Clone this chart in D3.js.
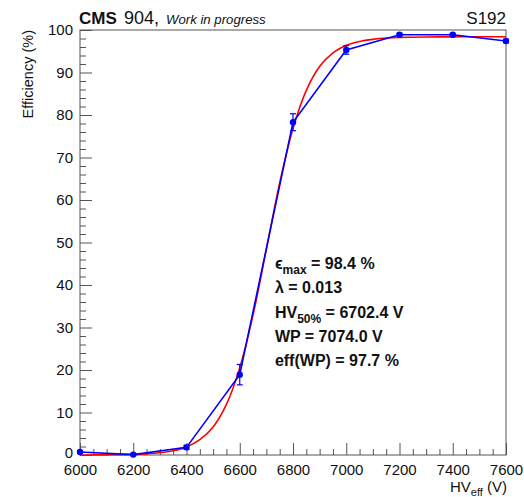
<!DOCTYPE html>
<html lang="en">
  <head>
    <meta charset="UTF-8" />
    <title>Efficiency vs HV – D3.js</title>
    <script src="https://d3js.org/d3.v7.min.js"></script>
    <style>
      body {
        margin: 0;
        background: white;
        font-family: 'Liberation Sans', Arial, sans-serif;
      }
      svg {
        display: block;
      }
      .tick text {
        font-family: 'Liberation Sans', Arial, sans-serif;
        font-size: 15px;
        fill: #111;
      }
      .fit-label {
        font-size: 16px;
        font-weight: bold;
        fill: #111;
      }
    </style>
  </head>
  <body>
    <svg width="524" height="497"></svg>

    <script>
      // measured points
      const hv = [6000, 6200, 6400, 6600, 6800, 7000, 7200, 7400, 7600];
      const eff = [0.7, 0.1, 1.8, 18.9, 78.3, 95.3, 98.9, 98.9, 97.4];
      const effErr = [0.3, 0.1, 0.5, 2.4, 2.0, 1.0, 0.3, 0.3, 0.4];

      // fit curve
      const fitHV = [6000, 6050, 6100, 6150, 6200, 6250, 6300, 6350, 6400,
        6450, 6500, 6550, 6600, 6650, 6700, 6750, 6800, 6850, 6900, 6950,
        7000, 7050, 7100, 7150, 7200, 7250, 7300, 7350, 7400, 7450, 7500,
        7550, 7600];
      const fitEff = [0.01, 0.02, 0.04, 0.08, 0.14, 0.27, 0.52, 1.0, 1.9,
        3.6, 6.6, 11.9, 20.5, 33.0, 48.4, 64.0, 76.8, 85.8, 91.4, 94.6,
        96.4, 97.3, 97.8, 98.1, 98.25, 98.3, 98.36, 98.38, 98.39, 98.4, 98.4,
        98.4, 98.4];

      const fitText = [
        ['ϵ', 'max', ' = 98.4 %'],
        ['λ = 0.013'],
        ['HV', '50%', ' = 6702.4 V'],
        ['WP = 7074.0 V'],
        ['eff(WP) = 97.7 %'],
      ];

      const width = 524,
        height = 497;
      const margin = { top: 30, right: 18, bottom: 42, left: 80 };
      const innerW = width - margin.left - margin.right;
      const innerH = height - margin.top - margin.bottom;

      const svg = d3.select('svg');
      const g = svg
        .append('g')
        .attr('transform', `translate(${margin.left},${margin.top})`);

      const x = d3.scaleLinear().domain([6000, 7600]).range([0, innerW]);
      const y = d3.scaleLinear().domain([0, 100]).range([innerH, 0]);

      // minor ticks
      g.append('g')
        .attr('transform', `translate(0,${innerH})`)
        .call(
          d3.axisBottom(x)
            .tickValues(d3.range(6000, 7601, 50).filter((v) => v % 200 !== 0))
            .tickSize(-6)
            .tickSizeOuter(0)
            .tickFormat(''),
        )
        .call((a) => a.select('.domain').remove());
      g.append('g')
        .call(
          d3.axisLeft(y)
            .tickValues(d3.range(0, 101, 2).filter((v) => v % 10 !== 0))
            .tickSize(-6)
            .tickSizeOuter(0)
            .tickFormat(''),
        )
        .call((a) => a.select('.domain').remove());

      // major ticks
      g.append('g')
        .attr('transform', `translate(0,${innerH})`)
        .call(
          d3.axisBottom(x)
            .tickValues(d3.range(6000, 7601, 200))
            .tickSize(-12)
            .tickSizeOuter(0)
            .tickPadding(9)
            .tickFormat(d3.format('d')),
        )
        .call((a) => a.select('.domain').remove());
      g.append('g')
        .call(
          d3.axisLeft(y)
            .tickValues(d3.range(0, 101, 10))
            .tickSize(-12)
            .tickSizeOuter(0)
            .tickPadding(7)
            .tickFormat(d3.format('d')),
        )
        .call((a) => a.select('.domain').remove())
        // the "0" sits tight on the x labels, lift it a bit
        .call((a) =>
          a.selectAll('.tick')
            .filter((d) => d === 0)
            .select('text')
            .attr('y', -2),
        );

      g.selectAll('.tick line').attr('stroke', '#555');

      // frame
      g.append('rect')
        .attr('width', innerW)
        .attr('height', innerH)
        .attr('fill', 'none')
        .attr('stroke', '#555')
        .attr('stroke-width', 1);

      // fit curve
      const fitLine = d3
        .line()
        .x((d, i) => x(fitHV[i]))
        .y((d) => y(d))
        .curve(d3.curveCatmullRom);
      g.append('path')
        .datum(fitEff)
        .attr('d', fitLine)
        .attr('fill', 'none')
        .attr('stroke', '#ff0000')
        .attr('stroke-width', 1.6);

      // data line
      const dataLine = d3
        .line()
        .x((d, i) => x(hv[i]))
        .y((d) => y(d));
      g.append('path')
        .datum(eff)
        .attr('d', dataLine)
        .attr('fill', 'none')
        .attr('stroke', '#0000ff')
        .attr('stroke-width', 1.6);

      // error bars
      const pts = hv.map((h, i) => ({ h, v: eff[i], e: effErr[i] }));
      const eb = g.selectAll('.err').data(pts).join('g').attr('class', 'err');
      eb.append('line')
        .attr('x1', (d) => x(d.h))
        .attr('x2', (d) => x(d.h))
        .attr('y1', (d) => y(d.v - d.e))
        .attr('y2', (d) => y(d.v + d.e))
        .attr('stroke', '#0000ff')
        .attr('stroke-width', 1.2);
      eb.selectAll('.cap')
        .data((d) => [d.v - d.e, d.v + d.e].map((v) => ({ h: d.h, v })))
        .join('line')
        .attr('x1', (d) => x(d.h) - 3)
        .attr('x2', (d) => x(d.h) + 3)
        .attr('y1', (d) => y(d.v))
        .attr('y2', (d) => y(d.v))
        .attr('stroke', '#0000ff')
        .attr('stroke-width', 1.2);

      g.selectAll('.pt')
        .data(pts)
        .join('circle')
        .attr('cx', (d) => x(d.h))
        .attr('cy', (d) => y(d.v))
        .attr('r', 3.2)
        .attr('fill', '#0000ff');

      // fit result text
      const lines = g
        .selectAll('.fit-label')
        .data(fitText)
        .join('text')
        .attr('class', 'fit-label')
        .attr('x', x(6732))
        .attr('y', (d, i) => y(43.7) + i * 24.2);
      lines.each(function (d) {
        const t = d3.select(this);
        t.append('tspan').text(d[0]);
        if (d.length > 1) {
          t.append('tspan')
            .attr('dy', 5)
            .attr('font-size', '12px')
            .text(d[1]);
          t.append('tspan').attr('dy', -5).text(d[2]);
        }
      });

      // header
      const head = svg.append('text').attr('y', 24).attr('fill', '#111');
      head.append('tspan')
        .attr('x', 79)
        .attr('font-weight', 'bold')
        .attr('font-size', '17px')
        .text('CMS');
      head.append('tspan')
        .attr('x', 124)
        .attr('font-size', '18px')
        .text('904,');
      head.append('tspan')
        .attr('x', 166)
        .attr('font-style', 'italic')
        .attr('font-size', '13.2px')
        .text('Work in progress');

      svg.append('text')
        .attr('x', margin.left + innerW)
        .attr('y', 24)
        .attr('text-anchor', 'end')
        .attr('font-size', '17px')
        .attr('fill', '#111')
        .text('S192');

      // axis titles
      svg.append('text')
        .attr('transform', `translate(33,${margin.top}) rotate(-90)`)
        .attr('text-anchor', 'end')
        .attr('font-size', '14.5px')
        .attr('fill', '#111')
        .text('Efficiency (%)');

      const xt = svg
        .append('text')
        .attr('x', 507)
        .attr('y', 492)
        .attr('text-anchor', 'end')
        .attr('font-size', '15px')
        .attr('fill', '#111');
      xt.append('tspan').text('HV');
      xt.append('tspan').attr('dy', 4).attr('font-size', '11px').text('eff');
      xt.append('tspan').attr('dy', -4).text(' (V)');
    </script>
  </body>
</html>
